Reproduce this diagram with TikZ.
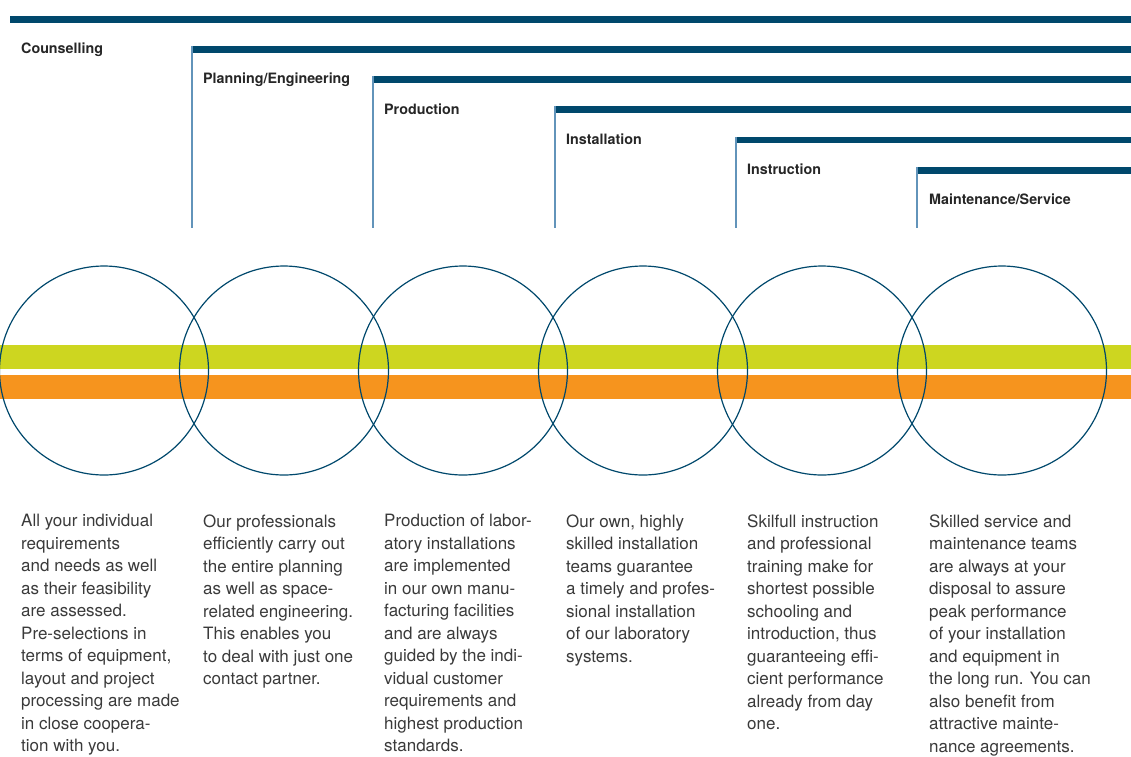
\documentclass[tikz,border=0pt]{standalone}
\usepackage{fontspec}
\setmainfont{TeX Gyre Heros}
\usetikzlibrary{positioning}

\definecolor{petrol}{RGB}{0,72,108}
\definecolor{steel}{RGB}{98,148,186}
\definecolor{lime}{RGB}{205,214,32}
\definecolor{tangerine}{RGB}{246,148,30}
\definecolor{copytext}{RGB}{58,58,58}

\begin{document}
\begin{tikzpicture}[x=1pt, y=-1pt]
	\tikzstyle{phase}=[font=\fontsize{14.3}{17}\selectfont\bfseries, text=black!85, inner sep=0pt, anchor=base west]
	\tikzstyle{bar}=[draw=petrol, line width=6.6pt]
	\tikzstyle{stem}=[draw=steel, line width=1.5pt]
	\tikzstyle{ring}=[circle, draw=petrol, line width=1.2pt, minimum size=209pt, inner sep=0pt]
	\tikzstyle{desc}=[font=\fontsize{17}{22.5}\selectfont, text=copytext, align=left, inner sep=0pt, anchor=north west]

	\useasboundingbox (0,0) rectangle (1131,756);

	% phase bars, each one stepping down and to the right
	\draw[bar] (10,19.4) -- (1131,19.4);
	\draw[bar] (192,49.4) -- (1131,49.4);
	\draw[bar] (373,79.6) -- (1131,79.6);
	\draw[bar] (555,109.6) -- (1131,109.6);
	\draw[bar] (736,140) -- (1131,140);
	\draw[bar] (917,170.5) -- (1131,170.5);

	\draw[stem] (192,46) -- (192,228);
	\draw[stem] (373,76) -- (373,228);
	\draw[stem] (555,106) -- (555,228);
	\draw[stem] (736,137) -- (736,228);
	\draw[stem] (917,167) -- (917,228);

	\node (counsel) [phase] at (21,53.8) {Counselling};
	\node (plan) [phase] at (203,83.8) {Planning/Engineering};
	\node (prod) [phase] at (384,114) {Production};
	\node (install) [phase] at (566,144) {Installation};
	\node (instruct) [phase] at (747,174.4) {Instruction};
	\node (service) [phase] at (929,204.8) {Maintenance/Service};

	% the two bands behind the rings
	\fill[lime] (0,345) rectangle (1131,369);
	\fill[tangerine] (0,375) rectangle (1131,399);

	\node (r1) [ring] at (104,370.5) {};
	\node (r2) [ring] at (284,370.5) {};
	\node (r3) [ring] at (463,370.5) {};
	\node (r4) [ring] at (643,370.5) {};
	\node (r5) [ring] at (822,370.5) {};
	\node (r6) [ring] at (1002,370.5) {};

	\node (d1) [desc] at (21,514.3) {All your individual\\requirements\\and needs as well\\as their feasibility\\are assessed.\\Pre-selections in\\terms of equipment,\\layout and project\\processing are made\\in close coopera-\\tion with you.};
	\node (d2) [desc] at (203,514.3) {Our professionals\\efficiently carry out\\the entire planning\\as well as space-\\related engineering.\\This enables you\\to deal with just one\\contact partner.};
	\node (d3) [desc] at (384,514.3) {Production of labor-\\atory installations\\are implemented\\in our own manu-\\facturing facilities\\and are always\\guided by the indi-\\vidual customer\\requirements and\\highest production\\standards.};
	\node (d4) [desc] at (566,514.3) {Our own, highly\\skilled installation\\teams guarantee\\a timely and profes-\\sional installation\\of our laboratory\\systems.};
	\node (d5) [desc] at (747,514.3) {Skilfull instruction\\and professional\\training make for\\shortest possible\\schooling and\\introduction, thus\\guaranteeing effi-\\cient performance\\already from day\\one.};
	\node (d6) [desc] at (929,514.3) {Skilled service and\\maintenance teams\\are always at your\\disposal to assure\\peak performance\\of your installation\\and equipment in\\the long run. You can\\also benefit from\\attractive mainte-\\nance agreements.};
\end{tikzpicture}
\end{document}
